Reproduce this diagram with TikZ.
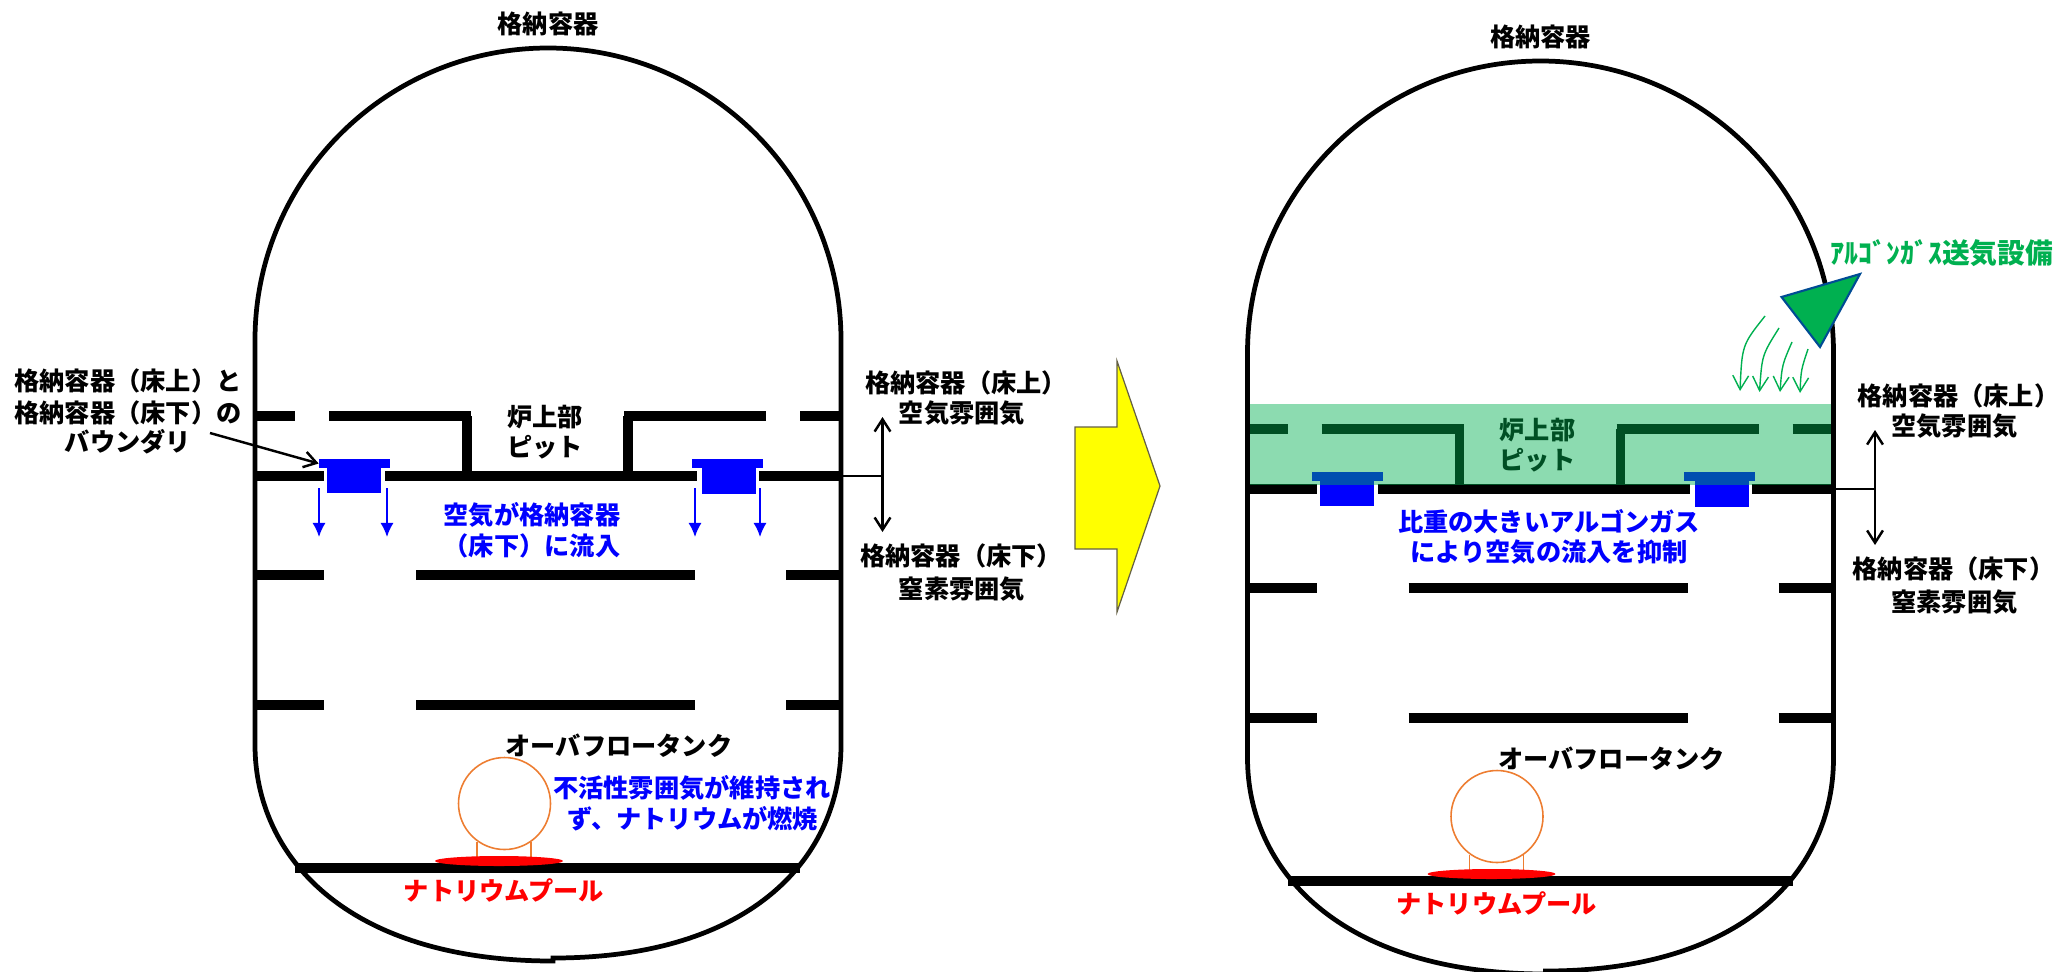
\documentclass[tikz,border=0pt]{standalone}
\usepackage{fontspec}
\usepackage{xcolor}
\setmainfont{Noto Sans CJK JP}
\usetikzlibrary{arrows.meta,positioning}
\definecolor{gasgreen}{HTML}{00B050}
\definecolor{tankorange}{HTML}{ED7D31}
\definecolor{vblue}{HTML}{0000FF}
\definecolor{vyellow}{HTML}{FFFF00}

\begin{document}
\begin{tikzpicture}[
  x=0.02cm,y=-0.02cm,
  txt/.style={inner sep=0pt, align=center, font=\bfseries\fontsize{14.35}{14.35}\selectfont},
  bluetxt/.style={txt, text=vblue},
  wall/.style={draw, line width=2.7pt},
  slab/.style={draw, line width=5.2pt},
  capblock/.style={fill=vblue, inner sep=0pt, minimum width=1.42cm, minimum height=0.18cm},
  bodyblock/.style={fill=vblue, inner sep=0pt, minimum width=1.08cm, minimum height=0.52cm},
  flow/.style={draw=vblue, line width=1.1pt, -{Latex[length=8pt,width=7.5pt]}},
  gasflow/.style={draw=gasgreen, line width=0.8pt, -{Straight Barb[length=8pt,width=9pt]}},
  span/.style={draw, line width=1.4pt, {Straight Barb[length=7pt,width=9pt]}-{Straight Barb[length=7pt,width=9pt]}}
]
\useasboundingbox (0,0) rectangle (2071,971);

% the two vessels are alike
\foreach \dx/\dy/\side in {0/0/L,992.5/13/R}{
\begin{scope}[shift={(\dx,\dy)}]
\draw[wall] (255,340) arc[start angle=180,end angle=360,x radius=293,y radius=292]
  -- (841,745) .. controls (841,855) and (755,958) .. (553,958)
  -- (553,961) .. controls (345,961) and (255,855) .. (255,745) -- cycle;
\node[txt] (\side title) at (548,24) {格納容器};

% floors
\foreach \a/\b/\y in {255/295/416,329/471/416,624/766/416,800/841/416,
  255/324/476,385/697/476,759/841/476,
  255/324/575,416/695/575,786/841/575,
  255/324/705,416/695/705,786/841/705,295/800/868}{
  \draw[slab] (\a,\y) -- (\b,\y);
}
\draw[slab] (467,416) -- (467,476);
\draw[slab] (628,416) -- (628,476);
\node[txt] (\side pit) at (545,417) {炉上部};
\node[txt] (\side pitb) at (545,447) {ピット};

\node[bodyblock] (\side bodya) at (354,480) {};
\node[capblock] (\side capa) at (354.5,463.5) {};
\node[bodyblock] (\side bodyb) at (729,481) {};
\node[capblock] (\side capb) at (727,463.5) {};

% overflow tank
\draw[tankorange, line width=0.9pt] (477,842) -- (477,857) (531,842) -- (531,857);
\draw[tankorange, line width=0.9pt] (504.5,803.5) circle[radius=46];
\fill[red] (499,861) ellipse[x radius=64,y radius=5];
\node[txt] (\side tank) at (619,746) {オーバフロータンク};
\node[txt, text=red] (\side pool) at (504,890) {ナトリウムプール};

% atmospheres
\node[txt] (\side upper) at (966,383) {格納容器（床上）};
\node[txt] (\side uppergas) at (962,413) {空気雰囲気};
\node[txt] (\side lower) at (961,556) {格納容器（床下）};
\node[txt] (\side lowergas) at (962,589) {窒素雰囲気};
\coordinate (\side wallpt) at (841,476);
\coordinate (\side spanpt) at (882.5,476);
\coordinate (\side spanup) at (882.5,417);
\coordinate (\side spandown) at (882.5,532);
\draw[line width=1.4pt] (\side wallpt) -- (\side spanpt);
\draw[span] (\side spanup) -- (\side spandown);
\end{scope}
}

% left only
\node[txt] (bnda) at (128,381) {格納容器（床上）と};
\node[txt] (bndb) at (128,413) {格納容器（床下）の};
\node[txt] (bndc) at (128,442) {バウンダリ};
\coordinate (bndstart) at (210,433);
\draw[line width=1.4pt, -{Straight Barb[length=7pt,width=9pt]}] (bndstart) -- (Lcapa.west);
\foreach \x in {319,387,695,760}{
  \coordinate (flowa\x) at (\x,488);
  \coordinate (flowb\x) at (\x,537);
  \draw[flow] (flowa\x) -- (flowb\x);
}
\node[bluetxt] (inflowa) at (532,515) {空気が格納容器};
\node[bluetxt] (inflowb) at (532,546) {（床下）に流入};
\node[bluetxt] (firea) at (692,788) {不活性雰囲気が維持され};
\node[bluetxt] (fireb) at (693,819) {ず、ナトリウムが燃焼};

% arrow between the states
\draw[draw=black!70!yellow, fill=vyellow, line width=0.7pt] (1075,427) -- (1117,427) -- (1117,361)
  -- (1160,486) -- (1117,612) -- (1117,549) -- (1075,549) -- cycle;

% right only
\node[txt, text=gasgreen, font=\bfseries\fontsize{15.8}{15.8}\selectfont] (gasunit) at (1942,253) {ｱﾙｺﾞﾝｶﾞｽ送気設備};
\draw[draw=blue!40!black!70!cyan, fill=gasgreen, line width=1.2pt] (1781.5,297) -- (1860,274) -- (1820,347) -- cycle;
\foreach \a/\b/\c/\d/\e/\f in {1765/316/1742/345/1740/391,1779/328/1762/355/1759.5/392,
  1792/342/1782/365/1780/392,1808/349/1801/370/1800/393}{
  \coordinate (gasa\a) at (\a,\b);
  \coordinate (gasb\a) at (\e,\f);
  \draw[gasflow] (gasa\a) .. controls (\c,\d) .. (gasb\a);
}
\node[bluetxt] (heavya) at (1549,522) {比重の大きいアルゴンガス};
\node[bluetxt] (heavyb) at (1549,552) {により空気の流入を抑制};
\fill[gasgreen, opacity=0.45] (1250,404) rectangle (1831,485);
\end{tikzpicture}
\end{document}
